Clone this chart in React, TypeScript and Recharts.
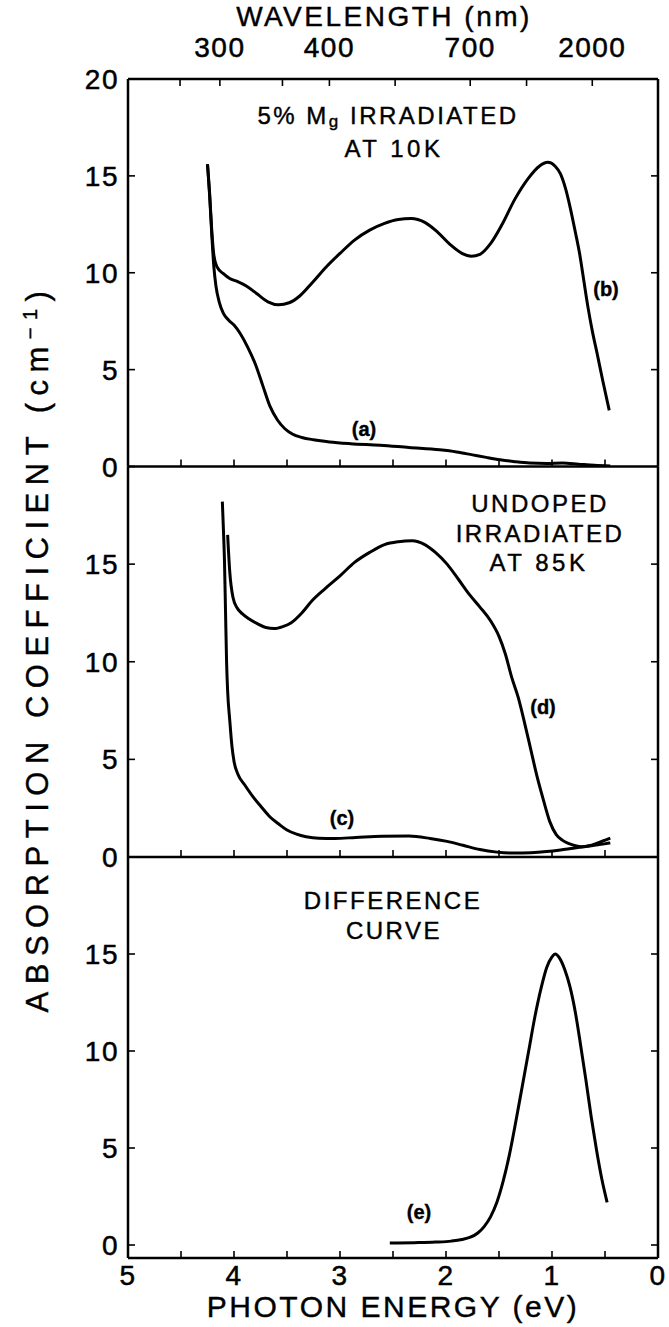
import React from 'react';
import { LineChart, Line, XAxis, YAxis } from 'recharts';

// photon energy ticks (eV) and wavelength ticks (nm) of the top axis
const energyTicks = [0, 0.5, 1, 1.5, 2, 2.5, 3, 3.5, 4, 4.5, 5];
const wavelengthTicks = [275, 300, 350, 400, 500, 700, 1000, 2000];
const wavelengthLabels = [300, 400, 700, 2000];

// (a) 5% Mg, before / (b) 5% Mg irradiated at 10 K
const aE = [4.25, 4.23, 4.21, 4.19, 4.17, 4.14, 4.1, 4.05, 4.0, 3.94, 3.87, 3.8, 3.73, 3.66, 3.59, 3.52, 3.45, 3.36, 3.25, 3.1, 2.9, 2.62, 2.35, 2.06, 1.9, 1.75, 1.62, 1.49, 1.35, 1.21, 1.05, 0.9, 0.75, 0.6, 0.45];
const aV = [15.6, 14.0, 12.0, 10.3, 9.3, 8.5, 7.9, 7.55, 7.3, 6.85, 6.15, 5.3, 4.2, 3.1, 2.4, 1.95, 1.68, 1.5, 1.38, 1.27, 1.18, 1.1, 0.98, 0.86, 0.75, 0.6, 0.47, 0.35, 0.25, 0.18, 0.16, 0.18, 0.12, 0.06, 0.03];
const bE = [4.25, 4.23, 4.21, 4.19, 4.16, 4.1, 4.04, 3.97, 3.88, 3.78, 3.68, 3.58, 3.48, 3.38, 3.26, 3.13, 3.0, 2.86, 2.72, 2.58, 2.45, 2.33, 2.2, 2.08, 1.96, 1.85, 1.76, 1.68, 1.58, 1.47, 1.35, 1.22, 1.12, 1.04, 0.97, 0.92, 0.87, 0.83, 0.78, 0.74, 0.7, 0.66, 0.62, 0.575, 0.52, 0.46];
const bV = [15.6, 14.1, 12.2, 10.9, 10.3, 9.95, 9.7, 9.55, 9.3, 8.9, 8.5, 8.35, 8.45, 8.8, 9.5, 10.3, 11.0, 11.7, 12.2, 12.55, 12.75, 12.8, 12.6, 12.1, 11.45, 11.0, 10.85, 10.95, 11.5, 12.5, 13.8, 14.9, 15.5, 15.7, 15.5, 15.1, 14.3, 13.4, 12.1, 11.0, 9.6, 8.2, 7.0, 5.85, 4.4, 2.9];

// (c) undoped, before / (d) undoped irradiated at 85 K
const cE = [4.11, 4.1, 4.09, 4.08, 4.07, 4.06, 4.04, 4.02, 4.0, 3.96, 3.9, 3.82, 3.74, 3.66, 3.58, 3.5, 3.41, 3.32, 3.2, 3.05, 2.85, 2.6, 2.35, 2.15, 1.99, 1.84, 1.68, 1.52, 1.37, 1.2, 1.05, 0.92, 0.8, 0.7, 0.6, 0.52, 0.45];
const cV = [18.2, 16.8, 15.2, 12.6, 10.0, 8.5, 7.0, 5.7, 4.9, 4.2, 3.7, 3.08, 2.55, 2.05, 1.7, 1.38, 1.17, 1.04, 0.96, 0.95, 1.0, 1.06, 1.07, 0.95, 0.8, 0.6, 0.38, 0.25, 0.2, 0.22, 0.28, 0.36, 0.45, 0.52, 0.6, 0.66, 0.72];
const dE = [4.06, 4.04, 4.01, 3.97, 3.92, 3.86, 3.78, 3.7, 3.62, 3.54, 3.46, 3.36, 3.26, 3.14, 3.0, 2.86, 2.72, 2.58, 2.45, 2.32, 2.2, 2.1, 1.99, 1.88, 1.78, 1.68, 1.58, 1.5, 1.44, 1.38, 1.32, 1.26, 1.2, 1.14, 1.08, 1.02, 0.96, 0.9, 0.84, 0.78, 0.72, 0.65, 0.58, 0.52, 0.45];
const dV = [16.5, 14.6, 13.3, 12.75, 12.45, 12.2, 11.95, 11.75, 11.7, 11.8, 12.0, 12.5, 13.15, 13.75, 14.4, 15.1, 15.6, 16.0, 16.15, 16.2, 16.0, 15.6, 15.0, 14.2, 13.45, 12.8, 12.1, 11.3, 10.4, 9.2, 8.2, 6.9, 5.5, 4.1, 2.9, 1.8, 1.15, 0.85, 0.68, 0.58, 0.53, 0.58, 0.7, 0.82, 0.97];

// (e) difference curve
const eE = [2.53, 2.3, 2.1, 1.95, 1.85, 1.77, 1.7, 1.64, 1.58, 1.52, 1.46, 1.4, 1.34, 1.28, 1.22, 1.16, 1.1, 1.05, 1.0, 0.97, 0.93, 0.88, 0.83, 0.78, 0.73, 0.68, 0.63, 0.58, 0.53, 0.48];
const eV = [0.1, 0.12, 0.15, 0.2, 0.28, 0.4, 0.62, 0.95, 1.45, 2.2, 3.3, 4.7, 6.4, 8.2, 10.0, 11.8, 13.3, 14.3, 14.85, 15.0, 14.8, 14.2, 13.3, 12.0, 10.3, 8.5, 6.6, 4.9, 3.4, 2.2];

const toRows = (es: number[], vs: number[]) => es.map((e, i) => ({ e, v: vs[i] }));

const FONT = '"Liberation Sans", Arial, Helvetica, sans-serif';
const W = 669;
const H = 1327;
const PLOT_LEFT = 128;
const PLOT_RIGHT = 658;
const TICK = 7; // inward tick length
const M = 10; // tickMargin used to recover the axis line position

const labelStyle = { fill: '#000', stroke: '#000', strokeWidth: 0.5, fontFamily: FONT, fontSize: 28, letterSpacing: 1.5 };
const axisStroke = { stroke: '#000', strokeWidth: 2.5 };

// bottom axis: y = axis + M
const bottomTick = (showLabel: boolean) => (p: any) => {
  const v = p.payload.value;
  const ay = p.y - M;
  return (
    <g>
      <line x1={p.x} x2={p.x} y1={ay} y2={ay - TICK} stroke="#000" strokeWidth={1.6} />
      {showLabel && Number.isInteger(v) && (
        <text {...labelStyle} x={p.x} y={ay + 27} textAnchor="middle">{v}</text>
      )}
    </g>
  );
};

// top axis: y = axis - M
const topTick = (p: any) => {
  const ay = p.y + M;
  const wl = wavelengthTicks[p.index];
  return (
    <g>
      <line x1={p.x} x2={p.x} y1={ay} y2={ay + TICK} stroke="#000" strokeWidth={1.6} />
      {wavelengthLabels.includes(wl) && (
        <text {...labelStyle} x={p.x} y={ay - 22} textAnchor="middle">{wl}</text>
      )}
    </g>
  );
};

// left axis: x = axis - M
const leftTick = (p: any) => {
  const ax = p.x + M;
  return (
    <g>
      <line x1={ax} x2={ax + TICK} y1={p.y} y2={p.y} stroke="#000" strokeWidth={1.6} />
      <text {...labelStyle} x={ax - 9} y={p.y + 10} textAnchor="end">{p.payload.value}</text>
    </g>
  );
};

// right axis: x = axis + M
const rightTick = (p: any) => {
  const ax = p.x - M;
  return <line x1={ax} x2={ax - TICK} y1={p.y} y2={p.y} stroke="#000" strokeWidth={1.6} />;
};

type PanelProps = {
  plotTop: number;
  plotBottom: number;
  yDomain: [number, number];
  yTicks: number[];
  rightTicks: number[];
  series: { e: number; v: number }[][];
  topAxis?: boolean;
  bottomLabels?: boolean;
};

const Panel: React.FC<PanelProps> = ({ plotTop, plotBottom, yDomain, yTicks, rightTicks, series, topAxis, bottomLabels }) => {
  const margin = {
    top: plotTop - (topAxis ? 30 : 0),
    bottom: H - plotBottom - 30,
    left: PLOT_LEFT - 60,
    right: W - PLOT_RIGHT - 10,
  };
  return (
    <div style={{ position: 'absolute', left: 0, top: 0 }}>
      <LineChart width={W} height={H} margin={margin}>
        <XAxis
          xAxisId="e"
          type="number"
          dataKey="e"
          domain={[0, 5]}
          reversed
          allowDataOverflow
          ticks={energyTicks}
          interval={0}
          height={30}
          tickSize={0}
          tickMargin={M}
          axisLine={axisStroke}
          tickLine={false}
          tick={bottomTick(!!bottomLabels)}
        />
        {topAxis && (
          <XAxis
            xAxisId="wl"
            orientation="top"
            type="number"
            dataKey="e"
            domain={[0, 5]}
            reversed
            allowDataOverflow
            ticks={wavelengthTicks.map((l) => 1240 / l)}
            interval={0}
            height={30}
            tickSize={0}
            tickMargin={M}
            axisLine={axisStroke}
            tickLine={false}
            tick={topTick}
          />
        )}
        <YAxis
          yAxisId="l"
          type="number"
          domain={yDomain}
          allowDataOverflow
          ticks={yTicks}
          interval={0}
          width={60}
          tickSize={0}
          tickMargin={M}
          axisLine={axisStroke}
          tickLine={false}
          tick={leftTick}
        />
        <YAxis
          yAxisId="r"
          orientation="right"
          type="number"
          domain={yDomain}
          allowDataOverflow
          ticks={rightTicks}
          interval={0}
          width={10}
          tickSize={0}
          tickMargin={M}
          axisLine={axisStroke}
          tickLine={false}
          tick={rightTick}
        />
        {series.map((rows, i) => (
          <Line
            key={i}
            xAxisId="e"
            yAxisId="l"
            data={rows}
            dataKey="v"
            type="monotone"
            stroke="#000"
            strokeWidth={3}
            dot={false}
            activeDot={false}
            isAnimationActive={false}
          />
        ))}
      </LineChart>
    </div>
  );
};

const txt = { fontFamily: FONT, fill: '#000', stroke: '#000', strokeWidth: 0.4 };

export default function App() {
  return (
    <div style={{ position: 'absolute', left: 0, top: 0, width: W, height: H, background: '#fff' }}>
      <Panel
        plotTop={79}
        plotBottom={466.5}
        yDomain={[0, 20]}
        yTicks={[0, 5, 10, 15, 20]}
        rightTicks={[5, 10, 15]}
        series={[toRows(aE, aV), toRows(bE, bV)]}
        topAxis
      />
      <Panel
        plotTop={466.5}
        plotBottom={857}
        yDomain={[0, 20]}
        yTicks={[0, 5, 10, 15]}
        rightTicks={[5, 10, 15]}
        series={[toRows(cE, cV), toRows(dE, dV)]}
      />
      <Panel
        plotTop={857}
        plotBottom={1258}
        yDomain={[-0.67, 20]}
        yTicks={[0, 5, 10, 15]}
        rightTicks={[0, 5, 10, 15]}
        series={[toRows(eE, eV)]}
        bottomLabels
      />
      <svg width={W} height={H} style={{ position: 'absolute', left: 0, top: 0, pointerEvents: 'none' }}>
        <text {...txt} x={384} y={26} fontSize={28} letterSpacing={2.5} textAnchor="middle">WAVELENGTH (nm)</text>
        <text {...txt} x={393} y={1317} fontSize={30} letterSpacing={2.5} textAnchor="middle">PHOTON ENERGY (eV)</text>
        <text {...txt} fontSize={31} letterSpacing={7.5} textAnchor="middle" transform="translate(48 648) rotate(-90)">
          ABSORPTION COEFFICIENT (cm<tspan fontSize={20} dy={-11}>−1</tspan><tspan dy={11}>)</tspan>
        </text>

        <text {...txt} x={388} y={124} fontSize={24} letterSpacing={2.5} textAnchor="middle">
          5% M<tspan fontSize={17} dy={3}>g</tspan><tspan dy={-3}> IRRADIATED</tspan>
        </text>
        <text {...txt} x={394} y={157} fontSize={24} letterSpacing={3.5} textAnchor="middle">AT 10K</text>

        <text {...txt} x={540} y={512} fontSize={24} letterSpacing={2.5} textAnchor="middle">UNDOPED</text>
        <text {...txt} x={540} y={542} fontSize={24} letterSpacing={2.5} textAnchor="middle">IRRADIATED</text>
        <text {...txt} x={539} y={571} fontSize={24} letterSpacing={3.5} textAnchor="middle">AT 85K</text>

        <text {...txt} x={393} y={909} fontSize={24} letterSpacing={2.5} textAnchor="middle">DIFFERENCE</text>
        <text {...txt} x={394} y={939} fontSize={24} letterSpacing={2.5} textAnchor="middle">CURVE</text>

        <text {...txt} x={364} y={436} fontSize={20} fontWeight="bold" textAnchor="middle">(a)</text>
        <text {...txt} x={606} y={296} fontSize={20} fontWeight="bold" textAnchor="middle">(b)</text>
        <text {...txt} x={342} y={825} fontSize={20} fontWeight="bold" textAnchor="middle">(c)</text>
        <text {...txt} x={543} y={714} fontSize={20} fontWeight="bold" textAnchor="middle">(d)</text>
        <text {...txt} x={419} y={1219} fontSize={20} fontWeight="bold" textAnchor="middle">(e)</text>
      </svg>
    </div>
  );
}
